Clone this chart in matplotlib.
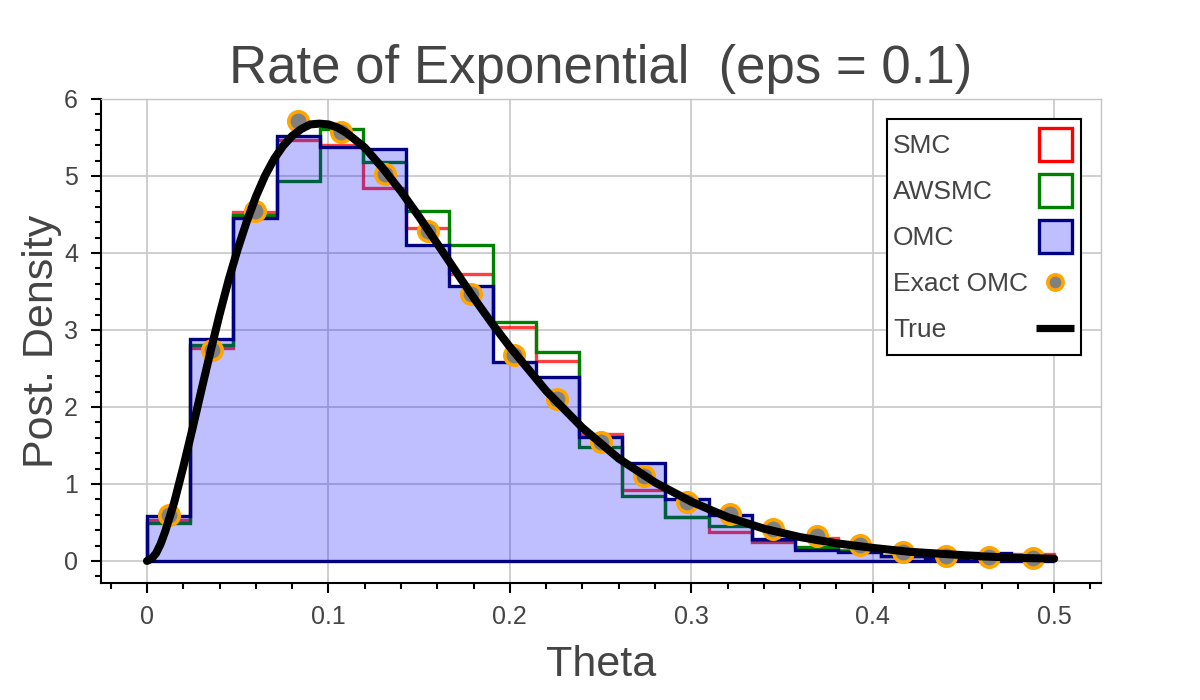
import matplotlib
matplotlib.use("Agg")
import matplotlib.pyplot as plt
import numpy as np
from matplotlib.patches import Rectangle
from matplotlib.ticker import MultipleLocator

# ---------------- data ----------------
n_bins = 21
theta_min, theta_max = 0.0, 0.5

smc = [0.53, 2.76, 4.53, 5.47, 5.40, 4.85, 4.32, 3.73, 3.04, 2.60, 1.65,
       0.92, 0.57, 0.37, 0.24, 0.30, 0.14, 0.07, 0.05, 0.05, 0.09]
awsmc = [0.49, 2.80, 4.49, 4.94, 5.61, 5.18, 4.54, 4.11, 3.10, 2.71, 1.48,
         0.84, 0.57, 0.45, 0.27, 0.18, 0.13, 0.07, 0.05, 0.05, 0.04]
omc = [0.58, 2.88, 4.45, 5.52, 5.38, 5.35, 4.10, 3.57, 2.58, 2.39, 1.61,
       1.27, 0.81, 0.60, 0.29, 0.14, 0.12, 0.06, 0.04, 0.10, 0.03]
exact_omc = [0.60, 2.74, 4.55, 5.72, 5.57, 5.03, 4.29, 3.47, 2.67, 2.10, 1.54,
             1.10, 0.77, 0.61, 0.41, 0.32, 0.21, 0.12, 0.07, 0.05, 0.04]

theta_true = [0.0, 0.0025, 0.005, 0.0075, 0.01, 0.015, 0.02, 0.025, 0.03,
              0.035, 0.04, 0.045, 0.05, 0.055, 0.06, 0.065, 0.07, 0.075,
              0.08, 0.085, 0.09, 0.095, 0.10, 0.105, 0.11, 0.12, 0.13, 0.14,
              0.15, 0.16, 0.17, 0.18, 0.19, 0.20, 0.22, 0.24, 0.26, 0.28,
              0.30, 0.32, 0.34, 0.36, 0.38, 0.40, 0.42, 0.44, 0.46, 0.48, 0.50]
dens_true = [0.00, 0.03, 0.10, 0.22, 0.38, 0.76, 1.22, 1.71, 2.22,
             2.72, 3.20, 3.65, 4.05, 4.41, 4.73, 5.00, 5.22, 5.39,
             5.52, 5.61, 5.67, 5.68, 5.67, 5.63, 5.56, 5.37, 5.10, 4.80,
             4.47, 4.12, 3.77, 3.42, 3.09, 2.78, 2.21, 1.73, 1.33, 1.02,
             0.77, 0.57, 0.42, 0.31, 0.23, 0.17, 0.12, 0.09, 0.06, 0.04, 0.03]

legend_labels = ["SMC", "AWSMC", "OMC", "Exact OMC", "True"]
title_text = "Rate of Exponential  (eps = 0.1)"
x_label = "Theta"
y_label = "Post. Density"

# ---------------- style ----------------
FONT = ["Liberation Sans", "DejaVu Sans"]
TXT = "#444444"
plt.rcParams["font.family"] = FONT

W, H = 1200, 700
fig = plt.figure(figsize=(12, 7), dpi=100)
fig.patch.set_facecolor("white")

# axes frame in pixel units: left 101, right 1101, top 99, bottom 583
ax = fig.add_axes([101 / W, (H - 583) / H, 1000 / W, 484 / H])
ax.set_xlim(-0.02534, 0.5258)
ax.set_ylim(-0.286, 6.0)

edges = np.linspace(theta_min, theta_max, n_bins + 1)
centers = 0.5 * (edges[:-1] + edges[1:])

lw_hist = 2.4
ax.stairs(smc, edges, color="red", alpha=0.75, lw=lw_hist, zorder=3)
ax.stairs(awsmc, edges, color="green", lw=lw_hist, zorder=4)
ax.stairs(omc, edges, fill=True, facecolor=(0, 0, 1, 0.25),
          edgecolor="none", zorder=5)
ax.stairs(omc, edges, color="navy", lw=lw_hist, zorder=6)
ax.plot([edges[0], edges[-1]], [0, 0], color="navy", lw=lw_hist,
        solid_capstyle="butt", zorder=6)
ax.plot(centers, exact_omc, ls="none", marker="o", ms=14,
        markerfacecolor="gray", markeredgecolor="orange", mew=2.6, zorder=7)
ax.plot(theta_true, dens_true, color="black", lw=5.8,
        solid_capstyle="round", solid_joinstyle="round", zorder=8)

# grid / spines / ticks
ax.grid(True, which="major", color="#cbcbcb", lw=1.3, zorder=0)
ax.set_axisbelow(True)
for s in ("top", "right"):
    ax.spines[s].set_color("#c4c4c4")
    ax.spines[s].set_linewidth(1.0)
for s in ("left", "bottom"):
    ax.spines[s].set_color("black")
    ax.spines[s].set_linewidth(1.5)

ax.xaxis.set_major_locator(MultipleLocator(0.1))
ax.xaxis.set_minor_locator(MultipleLocator(0.02))
ax.yaxis.set_major_locator(MultipleLocator(1))
ax.yaxis.set_minor_locator(MultipleLocator(0.2))
ax.xaxis.set_major_formatter(plt.FuncFormatter(lambda v, p: f"{v:g}"))
ax.tick_params(which="major", direction="out", length=7.5, width=1.5,
               color="black", labelsize=18, labelcolor=TXT)
ax.tick_params(which="minor", direction="out", length=4.5, width=1.5,
               color="black")
ax.tick_params(axis="x", which="major", pad=8)
ax.tick_params(axis="y", which="major", pad=9)

ax.set_title(title_text, fontsize=38, color=TXT, pad=11.5)
ax.set_xlabel(x_label, fontsize=31, color=TXT)
ax.set_ylabel(y_label, fontsize=31, color=TXT)
ax.xaxis.set_label_coords(0.5, (583 - 645) / 484)
ax.yaxis.set_label_coords((62 - 101) / 1000, 0.5)

# ---------------- legend (pixel-coordinate inset) ----------------
L, R, T, B = 887, 1081, 119, 355
lax = fig.add_axes([L / W, (H - B) / H, (R - L) / W, (B - T) / H], zorder=10)
lax.set_xlim(L, R)
lax.set_ylim(B, T)
lax.set_xticks([])
lax.set_yticks([])
lax.set_facecolor("white")
for s in lax.spines.values():
    s.set_color("black")
    s.set_linewidth(1.5)

row_y = [144, 190, 236, 282, 328]
for lab, yy in zip(legend_labels, row_y):
    lax.text(893, yy + 9, lab, fontsize=19, color=TXT, ha="left",
             va="baseline")

sq = 33
face = ["white", "white", (0, 0, 1, 0.25)]
edge = ["red", "green", "navy"]
for i in range(3):
    lax.add_patch(Rectangle((1055 - sq / 2, row_y[i] - sq / 2), sq, sq,
                            facecolor=face[i], edgecolor=edge[i], lw=2.4))
lax.plot([1055], [row_y[3]], marker="o", ms=11, markerfacecolor="gray",
         markeredgecolor="orange", mew=2.6)
lax.plot([1036, 1074], [row_y[4], row_y[4]], color="black", lw=5.2,
         solid_capstyle="butt")

fig.savefig("out.png", dpi=100)
